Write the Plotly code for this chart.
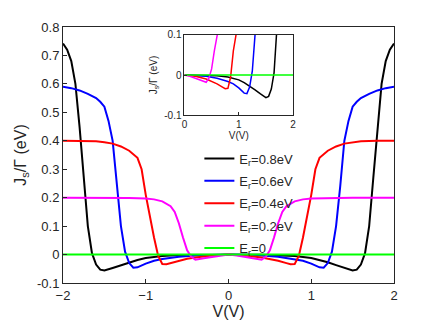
import plotly.graph_objects as go

# half curves (V >= 0); the curves are even in V, mirrored below
V_08 = [0, 0.2, 0.4, 0.6, 0.8, 1.0, 1.1, 1.2, 1.3, 1.4, 1.5, 1.55, 1.6, 1.65, 1.7, 1.75, 1.8, 1.85, 1.9, 1.95, 2.0]
J_08 = [0, -0.0005, -0.001, -0.002, -0.005, -0.012, -0.019, -0.027, -0.037, -0.047, -0.056, -0.053, -0.035, 0.005, 0.1, 0.27, 0.45, 0.6, 0.68, 0.72, 0.742]

V_06 = [0, 0.2, 0.4, 0.6, 0.8, 0.9, 1.0, 1.1, 1.15, 1.2, 1.25, 1.3, 1.35, 1.4, 1.45, 1.5, 1.55, 1.6, 1.7, 1.8, 1.9, 2.0]
J_06 = [0, -0.001, -0.003, -0.008, -0.016, -0.022, -0.032, -0.045, -0.046, -0.03, 0.01, 0.1, 0.24, 0.4, 0.47, 0.52, 0.537, 0.55, 0.565, 0.577, 0.585, 0.59]

V_04 = [0, 0.2, 0.4, 0.5, 0.6, 0.7, 0.75, 0.8, 0.85, 0.9, 0.95, 1.0, 1.05, 1.1, 1.2, 1.3, 1.4, 1.5, 1.6, 1.8, 2.0]
J_04 = [0, -0.003, -0.01, -0.015, -0.022, -0.03, -0.034, -0.033, -0.005, 0.06, 0.13, 0.21, 0.3, 0.34, 0.365, 0.38, 0.39, 0.395, 0.398, 0.4, 0.4]

V_02 = [0, 0.1, 0.2, 0.3, 0.4, 0.45, 0.5, 0.55, 0.6, 0.65, 0.7, 0.8, 0.9, 1.0, 1.2, 1.5, 2.0]
J_02 = [0, -0.003, -0.008, -0.013, -0.018, -0.008, 0.015, 0.06, 0.11, 0.15, 0.17, 0.187, 0.194, 0.197, 0.199, 0.2, 0.2]

V_00 = [0, 2.0]
J_00 = [0, 0]

series = [
    ("E<sub>r</sub>=0.8eV", V_08, J_08, "#000000"),
    ("E<sub>r</sub>=0.6eV", V_06, J_06, "#0000ff"),
    ("E<sub>r</sub>=0.4eV", V_04, J_04, "#ff0000"),
    ("E<sub>r</sub>=0.2eV", V_02, J_02, "#ff00ff"),
    ("E<sub>r</sub>=0", V_00, J_00, "#00ff00"),
]


def mirror(v, j):
    xs = [-x for x in v[::-1]] + v[1:]
    ys = j[::-1] + j[1:]
    return xs, ys


fig = go.Figure()
for i, (name, v, j, color) in enumerate(series):
    xs, ys = mirror(v, j)
    fig.add_trace(go.Scatter(x=xs, y=ys, mode="lines", name=name, legendgroup=f"g{i}",
                             line=dict(color=color, width=2)))
    # inset: V >= 0 only
    fig.add_trace(go.Scatter(x=v, y=j, mode="lines", name=name, showlegend=False,
                             legendgroup=f"g{i}", line=dict(color=color, width=1.5),
                             xaxis="x2", yaxis="y2"))

axis_common = dict(showline=True, mirror=True, ticks="inside", showgrid=False,
                   zeroline=False, linecolor="#262626", tickcolor="#262626",
                   linewidth=1)

# page body adds an 8px offset, so margins are shifted by it
fig.update_layout(
    width=436, height=327,
    margin=dict(l=52, r=50, t=17, b=52),
    paper_bgcolor="white", plot_bgcolor="white",
    font=dict(family="Liberation Sans, Arial, sans-serif", size=13, color="#262626"),
    xaxis=dict(range=[-2, 2], tickvals=[-2, -1, 0, 1, 2], ticklen=4,
               title=dict(text="V(V)", standoff=4), **axis_common),
    yaxis=dict(range=[-0.1, 0.8], tickvals=[-0.1, 0, 0.1, 0.2, 0.3, 0.4, 0.5, 0.6, 0.7, 0.8],
               ticktext=["-0.1", "0", "0.1", "0.2", "0.3", "0.4", "0.5", "0.6", "0.7", "0.8"],
               ticklen=4, title=dict(text="J<sub>s</sub>/Γ (eV)", standoff=6), **axis_common),
    xaxis2=dict(domain=[0.367, 0.695], anchor="y2", range=[0, 2], tickvals=[0, 1, 2],
                ticklen=3, tickfont=dict(size=10),
                title=dict(text="V(V)", font=dict(size=10), standoff=2), **axis_common),
    yaxis2=dict(domain=[0.655, 0.970], anchor="x2", range=[-0.1, 0.1],
                tickvals=[-0.1, 0, 0.1], ticktext=["-0.1", "0", "0.1"],
                ticklen=3, tickfont=dict(size=10),
                title=dict(text="J<sub>s</sub>/Γ (eV)", font=dict(size=10), standoff=4),
                **axis_common),
    legend=dict(x=0.412, y=0.545, xanchor="left", yanchor="top", tracegroupgap=2.5,
                bgcolor="rgba(0,0,0,0)", font=dict(size=13), itemwidth=30),
    showlegend=True,
)

fig.write_html("out.html")
